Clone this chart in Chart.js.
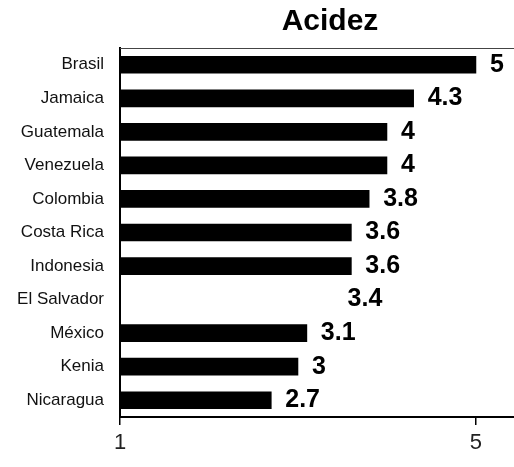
<!DOCTYPE html>
<html lang="es">
<head>
<meta charset="utf-8">
<title>Acidez</title>
<script src="https://cdn.jsdelivr.net/npm/chart.js@4"></script>
<style>
  html, body { margin: 0; padding: 0; background: #fff; overflow: hidden; }
  #wrap { width: 540px; height: 467px; }
</style>
</head>
<body>
<div id="wrap"><canvas id="acidezChart"></canvas></div>
<script>
const paises = ['Brasil', 'Jamaica', 'Guatemala', 'Venezuela', 'Colombia', 'Costa Rica',
  'Indonesia', 'El Salvador', 'México', 'Kenia', 'Nicaragua'];
const acidez = [5, 4.3, 4, 4, 3.8, 3.6, 3.6, 3.4, 3.1, 3, 2.7];
const ticksEje = [1, 5];
const sinBarra = ['El Salvador'];

const FUENTE = '"Liberation Sans", Arial, Helvetica, sans-serif';

// linea fina superior del area del grafico
const bordeSuperior = {
  id: 'bordeSuperior',
  afterDraw(chart) {
    const { ctx, chartArea } = chart;
    ctx.save();
    ctx.strokeStyle = '#444';
    ctx.lineWidth = 1;
    ctx.beginPath();
    ctx.moveTo(chartArea.left, chartArea.top + 0.5);
    ctx.lineTo(chartArea.right, chartArea.top + 0.5);
    ctx.stroke();
    ctx.restore();
  }
};

// valor al final de cada barra
const etiquetasValor = {
  id: 'etiquetasValor',
  afterDatasetsDraw(chart) {
    const { ctx } = chart;
    const meta = chart.getDatasetMeta(0);
    ctx.save();
    ctx.fillStyle = '#000';
    ctx.font = 'bold 25px ' + FUENTE;
    ctx.textAlign = 'left';
    ctx.textBaseline = 'middle';
    meta.data.forEach((bar, i) => {
      ctx.fillText(String(acidez[i]), bar.x + 14, bar.y);
    });
    ctx.restore();
  }
};

const ctx = document.getElementById('acidezChart').getContext('2d');
new Chart(ctx, {
  type: 'bar',
  data: {
    labels: paises,
    datasets: [{
      data: acidez,
      backgroundColor: c => sinBarra.includes(paises[c.dataIndex]) ? 'rgba(0,0,0,0)' : '#000',
      borderWidth: 0,
      barThickness: 17
    }]
  },
  options: {
    indexAxis: 'y',
    responsive: true,
    maintainAspectRatio: false,
    animation: false,
    layout: { padding: { left: 0, right: 0, top: 0, bottom: 0 } },
    plugins: {
      legend: { display: false },
      tooltip: { enabled: false },
      title: {
        display: true,
        text: 'Acidez',
        fullSize: false,
        color: '#000',
        font: { family: FUENTE, size: 30, weight: 'bold' },
        padding: { top: 4, bottom: 8 }
      }
    },
    scales: {
      x: {
        min: 1,
        max: 5.72,
        afterBuildTicks: s => { s.ticks = ticksEje.map(v => ({ value: v })); },
        afterFit: s => { s.height = 50; },
        border: { display: true, color: '#000', width: 2 },
        grid: { display: true, drawOnChartArea: false, drawTicks: true, tickLength: 8, color: '#000', lineWidth: 1.5 },
        ticks: { color: '#222', padding: 5, font: { family: FUENTE, size: 22 } }
      },
      y: {
        afterFit: s => { s.width = 120; },
        border: { display: true, color: '#000', width: 2 },
        grid: { display: false, drawTicks: false },
        ticks: { color: '#111', padding: 16, font: { family: FUENTE, size: 17 } }
      }
    }
  },
  plugins: [bordeSuperior, etiquetasValor]
});
</script>
</body>
</html>
